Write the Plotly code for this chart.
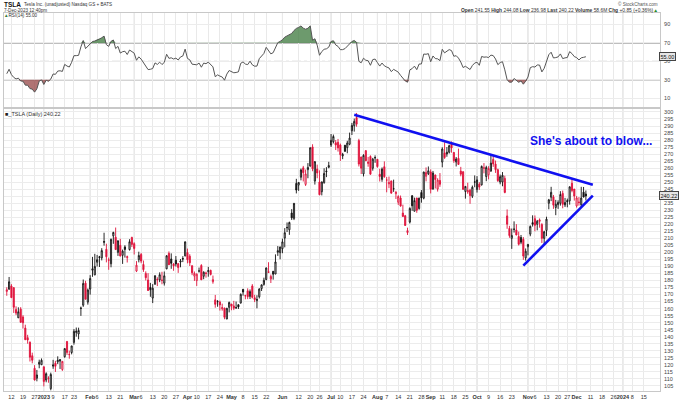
import numpy as np
import pandas as pd
import plotly.graph_objects as go

# ---------------- data ----------------
holidays = ["2022-12-26", "2023-01-02", "2023-01-16", "2023-02-20", "2023-04-07",
            "2023-05-29", "2023-06-19", "2023-07-04", "2023-09-04", "2023-11-23",
            "2023-12-25", "2024-01-01"]
first_day = "2022-12-08"
last_day = "2023-12-07"
axis_end_day = "2024-01-31"

opens = [
    172.2,173.8,176.1,174.9,159.3,153.4,159.6,154.0,146.1,139.3,136.0,126.4,117.5,110.4,120.4,120.0,
    118.5,109.1,110.5,103.0,119.0,121.1,122.1,122.6,116.6,125.7,136.6,127.3,128.7,135.9,143.0,141.9,160.0,162.4,178.1,164.6,
    173.9,187.3,184.0,193.0,196.4,196.1,207.8,202.2,194.4,191.9,211.8,210.8,200.0,205.0,197.9,203.9,196.3,202.0,210.6,
    206.2,186.7,194.8,198.5,191.4,185.0,180.3,175.1,167.5,177.3,180.8,180.4,180.2,178.1,188.3,199.3,195.3,191.7,194.4,192.0,193.1,195.6,197.5,
    199.9,197.3,190.5,183.1,179.9,186.7,190.7,183.0,185.4,186.3,187.2,179.1,166.2,164.8,164.7,159.8,160.3,152.6,160.9,
    163.2,161.9,160.5,162.7,164.0,173.7,169.0,172.6,168.7,176.1,167.7,165.7,168.4,174.2,177.2,180.7,186.2,181.0,186.5,184.6,200.1,199.8,
    202.6,210.2,217.8,216.1,228.0,224.2,249.1,247.9,253.5,260.2,248.4,258.9,261.5,275.1,250.8,259.3,250.1,243.2,249.7,258.0,260.6,
    276.5,278.8,278.1,278.4,276.5,268.7,276.3,274.6,277.0,286.6,290.2,296.0,279.6,268.0,255.9,272.4,263.3,268.3,259.9,267.5,
    266.3,255.6,252.0,261.0,251.5,248.8,250.9,245.4,241.8,235.7,238.7,228.0,226.1,214.1,221.6,240.3,229.3,238.7,231.3,242.6,238.6,254.2,256.0,
    257.3,245.0,255.1,245.1,251.2,264.3,270.8,270.1,271.3,277.6,271.2,264.4,267.0,257.9,257.4,243.4,243.0,244.3,240.0,250.0,
    244.8,248.6,248.1,260.0,254.0,255.3,257.8,266.2,262.9,258.9,250.1,250.1,252.7,226.0,217.0,210.0,216.5,215.9,211.3,210.6,209.3,196.1,
    204.0,213.0,221.2,224.0,220.0,223.2,219.8,210.0,215.6,235.0,239.3,239.5,232.0,234.0,235.0,242.0,233.8,236.9,236.7,249.2,245.1,
    233.1,235.8,233.9,242.9,241.55,
]
highs = [
    175.2,182.5,177.4,175.1,161.6,160.9,161.0,155.3,148.5,141.3,136.6,128.6,119.7,116.3,123.6,124.5,
    118.8,114.6,111.8,114.4,123.5,122.8,126.0,124.1,122.6,131.7,136.7,130.0,133.5,145.4,146.5,146.4,161.4,180.7,179.8,174.3,
    183.8,196.8,199.0,198.2,197.5,203.0,214.0,206.2,196.3,209.8,214.7,217.7,208.4,209.7,202.0,205.1,197.7,209.4,211.2,
    207.2,193.8,200.5,199.6,194.2,186.5,185.2,178.3,177.4,183.8,182.3,185.8,186.2,186.4,198.0,200.7,199.3,192.4,197.4,192.4,195.3,197.3,207.8,
    202.7,198.7,190.7,186.4,185.1,189.2,191.6,186.5,186.3,189.7,187.7,183.5,169.7,166.0,165.7,163.5,160.7,160.5,165.0,
    163.3,165.5,165.0,163.0,170.8,173.8,169.8,174.4,173.6,177.4,169.8,169.5,174.5,177.1,182.0,189.3,193.0,184.2,186.8,198.6,204.5,204.0,
    209.8,217.3,221.3,221.9,230.8,235.2,252.4,250.0,259.7,261.6,259.0,263.6,274.8,277.0,265.0,262.5,258.4,250.4,259.9,260.7,264.5,
    284.3,283.9,280.0,280.8,277.5,270.9,276.5,279.5,285.3,292.2,295.3,299.3,280.9,268.0,269.9,272.9,268.0,269.1,267.3,269.1,
    266.5,259.5,260.5,264.8,253.7,254.0,251.0,251.8,243.8,240.7,240.5,234.0,226.7,217.6,232.1,240.8,239.0,238.9,239.0,244.4,257.5,260.5,261.2,
    259.1,258.0,255.4,252.8,256.5,274.9,278.4,275.0,276.7,279.0,271.4,267.9,273.9,260.9,257.8,247.1,249.6,245.3,247.6,254.8,
    254.3,250.0,261.9,263.6,261.7,261.4,268.9,268.6,265.4,259.6,255.4,257.2,254.6,230.6,218.9,217.0,222.1,220.1,214.8,212.4,210.9,202.8,
    206.0,219.2,226.4,226.3,223.1,224.2,220.8,215.4,225.4,238.1,246.7,240.9,237.4,237.1,243.6,244.0,238.8,238.3,247.0,252.8,245.2,
    240.2,239.4,246.7,246.6,244.08,
]
lows = [
    169.1,173.4,167.5,156.9,155.3,153.3,150.0,145.8,137.7,135.0,122.3,121.0,108.8,108.2,117.5,119.8,
    104.6,107.5,107.2,101.8,117.1,114.9,120.5,117.0,115.6,125.0,127.0,124.3,127.4,134.3,140.0,138.1,154.8,161.2,166.5,162.8,
    169.9,182.6,183.7,189.9,189.6,194.3,204.8,192.9,187.6,189.4,206.1,201.8,197.5,197.2,191.8,196.3,192.8,201.3,203.8,
    198.5,186.0,192.9,192.3,186.1,180.0,172.5,168.4,163.9,177.1,176.0,178.8,177.3,176.4,188.0,191.0,188.3,186.9,189.9,185.4,189.4,193.1,197.2,
    192.2,190.3,183.8,179.7,176.1,185.6,180.3,180.9,182.0,182.7,183.6,177.7,160.6,161.3,158.6,158.5,152.4,152.4,157.3,
    158.8,158.9,159.9,159.7,163.5,169.2,166.6,166.7,166.8,167.2,164.6,160.2,167.2,172.5,176.3,180.1,185.3,178.2,180.6,184.5,197.5,195.1,
    199.4,203.6,214.5,212.5,223.1,223.0,242.0,243.8,251.3,250.5,247.3,252.8,261.1,257.8,248.3,252.8,240.7,240.6,248.9,253.6,259.9,
    275.1,277.6,272.9,271.8,265.1,266.4,271.5,270.6,276.3,283.6,286.0,289.5,261.2,255.8,254.1,265.0,261.0,255.3,258.2,263.8,
    260.3,250.5,250.3,253.1,242.8,245.7,241.9,243.1,238.0,233.8,232.6,225.4,218.8,212.4,220.6,229.6,229.3,228.2,230.4,235.4,237.8,250.6,255.1,
    242.0,244.9,245.5,243.3,246.7,260.6,266.6,268.1,270.4,271.0,263.8,261.2,262.5,254.2,244.5,238.3,241.7,234.6,238.7,246.4,
    242.6,244.5,247.6,256.3,250.7,252.0,257.7,260.9,256.6,250.2,248.5,247.1,242.1,216.8,210.4,202.5,214.1,212.2,204.9,205.8,194.7,194.1,
    197.9,211.5,218.4,215.0,215.7,217.6,206.7,205.7,211.6,230.7,236.5,231.0,226.5,231.0,233.3,231.4,232.3,232.1,234.0,242.8,236.9,
    231.9,233.3,231.8,239.2,236.98,
]
closes = [
    173.4,179.1,167.8,160.9,156.8,157.7,150.2,149.9,137.8,137.6,125.4,123.2,109.1,112.7,121.8,123.2,
    108.1,113.6,110.3,113.1,119.8,118.9,123.2,123.6,122.4,131.5,128.8,127.2,133.4,143.8,143.9,144.4,160.3,177.9,166.7,173.2,
    181.4,188.3,190.0,194.8,196.8,201.3,207.3,196.9,194.6,209.3,214.2,202.0,208.3,197.4,200.9,202.1,196.9,207.6,205.7,
    202.8,190.9,197.8,193.8,187.7,182.0,172.9,173.4,174.5,183.3,180.5,184.1,180.1,183.3,197.6,191.2,192.2,190.4,191.8,189.2,193.9,195.3,207.5,
    194.8,192.6,185.5,185.1,184.5,186.8,180.5,185.9,185.0,187.0,184.3,180.6,163.0,165.1,162.6,160.7,153.8,160.2,164.3,
    161.8,160.3,160.6,161.2,170.1,171.8,169.2,168.5,172.1,168.0,166.4,166.5,173.9,176.9,180.1,188.9,185.8,182.9,184.5,193.2,201.2,203.9,
    207.5,214.0,217.6,221.3,224.6,234.9,244.4,249.8,258.7,256.8,255.9,260.5,274.5,259.5,264.6,256.6,241.1,250.2,256.2,257.5,261.8,
    279.8,282.5,276.5,274.4,269.6,269.8,272.0,277.9,281.4,290.4,293.3,291.3,262.9,260.0,269.1,265.3,264.4,255.7,266.4,267.4,
    261.1,254.1,259.3,253.9,251.5,249.7,242.2,245.3,242.7,239.8,233.0,225.6,219.2,215.5,231.3,233.2,236.9,230.0,238.6,238.8,257.2,256.9,258.1,
    245.0,256.5,251.9,251.5,248.5,273.6,267.5,271.3,276.0,274.4,265.3,266.5,262.6,255.7,244.9,247.0,244.1,240.5,246.4,250.2,
    251.6,246.5,261.2,260.1,260.5,259.7,263.6,263.0,258.9,251.1,253.9,254.9,242.7,220.1,212.0,212.1,216.5,212.4,205.8,207.3,197.4,200.8,
    205.7,218.5,220.0,219.3,222.2,222.1,210.0,214.7,223.7,237.4,242.8,233.6,234.3,235.6,241.2,234.2,235.5,236.1,246.7,244.1,240.1,
    238.8,235.6,238.7,239.4,240.22,
]
# closes before the chart window (Oct 3 - Dec 7, 2022), used to warm up RSI(14)
warmup_closes = [
    242.4,249.4,240.8,238.1,223.1,223.0,216.5,217.2,221.7,205.0,219.4,220.2,222.0,207.3,214.4,211.3,222.4,224.6,225.1,228.5,227.5,
    227.8,215.0,215.3,207.5,197.1,191.3,177.6,190.7,196.0,191.0,194.4,186.9,183.2,180.2,167.9,169.9,183.2,182.9,182.9,180.8,194.7,
    194.7,194.9,182.5,179.8,174.0,
]

tick_dates = ["2022-12-12","2022-12-19","2022-12-27","2023-01-03","2023-01-09","2023-01-17","2023-01-23",
              "2023-02-01","2023-02-06","2023-02-13","2023-02-21","2023-03-01","2023-03-06","2023-03-13","2023-03-20","2023-03-27",
              "2023-04-03","2023-04-10","2023-04-17","2023-04-24","2023-05-01","2023-05-08","2023-05-15","2023-05-22",
              "2023-06-01","2023-06-12","2023-06-20","2023-06-26","2023-07-03","2023-07-10","2023-07-17","2023-07-24",
              "2023-08-01","2023-08-07","2023-08-14","2023-08-21","2023-08-28","2023-09-01","2023-09-11","2023-09-18","2023-09-25",
              "2023-10-02","2023-10-09","2023-10-16","2023-10-23","2023-11-01","2023-11-06","2023-11-13","2023-11-20","2023-11-27",
              "2023-12-01","2023-12-11","2023-12-18","2023-12-26","2024-01-02","2024-01-08","2024-01-15"]
tick_labels = ["12","19","27","<b>2023</b>","9","17","23",
               "<b>Feb</b>","6","13","21","<b>Mar</b>","6","13","20","27",
               "<b>Apr</b>","10","17","24","<b>May</b>","8","15","22",
               "<b>Jun</b>","12","20","26","<b>Jul</b>","10","17","24",
               "<b>Aug</b>","7","14","21","28","<b>Sep</b>","11","18","25",
               "<b>Oct</b>","9","16","23","<b>Nov</b>","6","13","20","27",
               "<b>Dec</b>","11","18","26","<b>2024</b>","8","15"]

price_ticks = list(range(105, 305, 5))
rsi_ticks = [10, 30, 50, 70, 90]

# trendlines (date, price)
upper_line_dates = ["2023-07-18", "2023-12-12"]
upper_line_prices = [298.0, 248.2]
lower_line_dates = ["2023-10-30", "2023-12-12"]
lower_line_prices = [190.6, 240.4]

note_text = "She's about to blow..."
note_date = "2023-12-11"
note_price = 279.0

last_price = 240.22
last_rsi = 55.00

# ---------------- calendar (trading-day index) ----------------
cal = pd.bdate_range(first_day, axis_end_day)
cal = [d.strftime("%Y-%m-%d") for d in cal if d.strftime("%Y-%m-%d") not in holidays]
pos = {d: i for i, d in enumerate(cal)}
n = len(closes)
x = list(range(n))
assert cal[n - 1] == last_day, (cal[n - 1], n)

# ---------------- RSI(14) (Wilder) ----------------
allc = np.array(warmup_closes + closes, dtype=float)
d = np.diff(allc)
g = np.clip(d, 0, None)
l = np.clip(-d, 0, None)
ag, al = g[:14].mean(), l[:14].mean()
rsi_all = [np.nan] * 15
for i in range(14, len(d)):
    ag = (ag * 13 + g[i]) / 14
    al = (al * 13 + l[i]) / 14
    rsi_all.append(100 - 100 / (1 + ag / al))
rsi_all = np.array(rsi_all[:len(allc)])
rsi = rsi_all[-n:]

# ---------------- candle colour groups ----------------
prev = [warmup_closes[-1]] + closes[:-1]
blk = [i for i in range(n) if closes[i] >= prev[i]]
red = [i for i in range(n) if closes[i] < prev[i]]

BLACK = "#111111"
RED = "#e0143c"
HOLLOW = "#eeeeee"

fig = go.Figure()

def candles(idx, col):
    return go.Candlestick(
        x=[x[i] for i in idx], open=[opens[i] for i in idx], high=[highs[i] for i in idx],
        low=[lows[i] for i in idx], close=[closes[i] for i in idx],
        increasing=dict(line=dict(color=col, width=0.9), fillcolor=HOLLOW),
        decreasing=dict(line=dict(color=col, width=0.9), fillcolor=col),
        whiskerwidth=0, showlegend=False, xaxis="x", yaxis="y", hoverinfo="skip")

fig.add_trace(candles(blk, BLACK))
fig.add_trace(candles(red, RED))

# trendlines
fig.add_trace(go.Scatter(x=[pos[d] for d in upper_line_dates], y=upper_line_prices, mode="lines",
                         line=dict(color="#1010f0", width=2.6), showlegend=False, xaxis="x", yaxis="y"))
fig.add_trace(go.Scatter(x=[pos[d] for d in lower_line_dates], y=lower_line_prices, mode="lines",
                         line=dict(color="#1010f0", width=2.6), showlegend=False, xaxis="x", yaxis="y"))

# RSI fills
hi = np.where(np.isnan(rsi), 70, np.maximum(rsi, 70))
lo = np.where(np.isnan(rsi), 30, np.minimum(rsi, 30))
fig.add_trace(go.Scatter(x=x, y=[70] * n, mode="lines", line=dict(width=0), showlegend=False,
                         xaxis="x2", yaxis="y2", hoverinfo="skip"))
fig.add_trace(go.Scatter(x=x, y=hi, mode="lines", line=dict(width=0), fill="tonexty",
                         fillcolor="rgba(60,120,60,0.75)", showlegend=False, xaxis="x2", yaxis="y2", hoverinfo="skip"))
fig.add_trace(go.Scatter(x=x, y=[30] * n, mode="lines", line=dict(width=0), showlegend=False,
                         xaxis="x2", yaxis="y2", hoverinfo="skip"))
fig.add_trace(go.Scatter(x=x, y=lo, mode="lines", line=dict(width=0), fill="tonexty",
                         fillcolor="rgba(150,70,70,0.75)", showlegend=False, xaxis="x2", yaxis="y2", hoverinfo="skip"))
fig.add_trace(go.Scatter(x=x, y=rsi, mode="lines", line=dict(color="#555555", width=1),
                         showlegend=False, xaxis="x2", yaxis="y2"))

# ---------------- layout ----------------
W, H = 679, 403
ML, MR, MT, MB = 3, 19, 13, 7
PW, PH = W - ML - MR, H - MT - MB
def px(v):
    return (v - ML) / PW
def py(v):
    return 1 - (v - MT) / PH

FONT = "Liberation Sans, Arial, sans-serif"
tickvals = [pos[d] for d in tick_dates]
xrange = [-1.2, 282]

price_text = ["" if abs(v - last_price) < 3 else str(v) for v in price_ticks]

common_x = dict(range=xrange, tickmode="array", tickvals=tickvals, showgrid=True, gridcolor="#e9e9e9",
                gridwidth=1, zeroline=False, showline=True, linecolor="#c8c8c8", mirror=True, ticks="")
fig.update_layout(
    width=W, height=H, margin=dict(l=ML, r=MR, t=MT, b=MB),
    paper_bgcolor="white", plot_bgcolor="white",
    font=dict(family=FONT, size=6, color="#333333"),
    xaxis=dict(**common_x, anchor="y", ticktext=tick_labels, tickfont=dict(size=5.5, color="#333"),
               tickangle=0, rangeslider=dict(visible=False), ticklabelstandoff=0),
    xaxis2=dict(**common_x, anchor="y2", matches="x", showticklabels=False),
    yaxis=dict(domain=[0, py(110)], range=[101.3, 302.3], side="right", tickmode="array",
               tickvals=price_ticks, ticktext=price_text, showgrid=True,
               gridcolor="#ececec", zeroline=False, showline=True, linecolor="#c8c8c8", mirror=True,
               ticks="", tickfont=dict(size=5.5, color="#444"), ticklabelstandoff=2),
    yaxis2=dict(domain=[py(108), 1], range=[0.7, 102.5], side="right", tickmode="array",
                tickvals=rsi_ticks, ticktext=[str(v) for v in rsi_ticks], showgrid=True,
                gridcolor="#ececec", zeroline=False, showline=True, linecolor="#c8c8c8", mirror=True,
                ticks="", tickfont=dict(size=5.5, color="#444"), ticklabelstandoff=2),
)

shapes = []
# darker month gridlines
for d_, lab in zip(tick_dates, tick_labels):
    if lab.startswith("<b>"):
        for xr, yr in (("x", "y domain"), ("x2", "y2 domain")):
            shapes.append(dict(type="line", xref=xr, yref=yr, x0=pos[d_], x1=pos[d_], y0=0, y1=1,
                               line=dict(color="#d6d6d6", width=1), layer="below"))
# RSI levels
for lv in (70, 30):
    shapes.append(dict(type="line", xref="x2 domain", yref="y2", x0=0, x1=1, y0=lv, y1=lv,
                       line=dict(color="#a8a8a8", width=1.5), layer="below"))
shapes.append(dict(type="line", xref="x2 domain", yref="y2", x0=0, x1=1, y0=50, y1=50,
                   line=dict(color="#a8a8a8", width=1, dash="dashdot"), layer="below"))
fig.update_layout(shapes=shapes)

ann = []
def txt(t, xp, yp, size=5.5, anchor="left", color="#333", **kw):
    ann.append(dict(text=t, x=px(xp), y=py(yp), xref="paper", yref="paper", xanchor=anchor,
                    yanchor="middle", showarrow=False, borderpad=0,
                    font=dict(size=size, color=color, family=FONT), **kw))

txt("<b>TSLA</b>", 2, 4.3, size=6.5, color="#111")
txt("Tesla Inc. (unadjusted) Nasdaq GS + BATS", 22, 4.8, size=4.6)
txt("7-Dec-2023 12:40pm", 2, 10.2, size=4.6)
txt("<span style='color:#3a7a3a'>▲</span>RSI(14) 55.00", 2, 15.6, size=4.6)
txt("© StockCharts.com", 659, 4.3, size=4.6, anchor="right", color="#555")
txt("<b>Open</b> 241.55 <b>High</b> 244.08 <b>Low</b> 236.98 <b>Last</b> 240.22 "
    "<b>Volume</b> 58.6M <b>Chg</b> +0.85 (+0.36%)<span style='color:#2a8a2a'>▲</span>",
    659, 10.8, size=4.9, anchor="right")
txt("<span style='color:#222'>■</span>_TSLA (Daily) 240.22", 3, 115, size=5.5)

# note text
ann.append(dict(text="<b>" + note_text + "</b>", x=pos[note_date], y=note_price, xref="x", yref="y",
                showarrow=False, font=dict(size=12, color="#1010f0", family=FONT), xanchor="center",
                yanchor="middle"))
# last value tags
ann.append(dict(text="240.22", x=1.0, y=last_price, xref="paper", yref="y", xanchor="left", yanchor="middle",
                showarrow=False, font=dict(size=5.5, color="#111", family=FONT), bgcolor="#e6e6e6",
                bordercolor="#444", borderwidth=1, borderpad=0.5, xshift=-1))
ann.append(dict(text="55.00", x=1.0, y=last_rsi, xref="paper", yref="y2", xanchor="left", yanchor="middle",
                showarrow=False, font=dict(size=5.5, color="#111", family=FONT), bgcolor="#e6e6e6",
                bordercolor="#444", borderwidth=1, borderpad=0.5, xshift=-1))
fig.update_layout(annotations=ann)

fig.write_html("out.html")
